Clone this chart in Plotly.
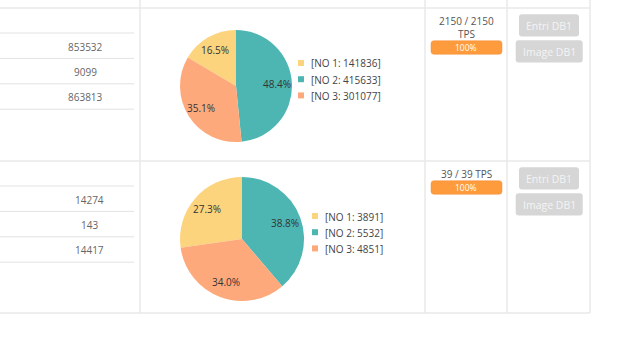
import math
import plotly.graph_objects as go

W, H = 620, 345

# ---- data ----
series = ["NO 1", "NO 2", "NO 3"]
series_colors = ["#FCD47E", "#4DB6B2", "#FEA97B"]
pie_row1 = [141836, 415633, 301077]
pie_row2 = [3891, 5532, 4851]
counts_row1 = [853532, 9099, 863813]
counts_row2 = [14274, 143, 14417]
tps_done = [2150, 39]
tps_target = [2150, 39]
progress_pct = [100, 100]
button_labels = ["Entri DB1", "Image DB1"]

FONT = "Open Sans"
LINE = "#E9E9E9"
INNER_LINE = "#E2E2E2"


def fx(x):
    return x / W


def fy(y):
    return 1 - y / H


def rrect(x0, y0, x1, y1, r):
    return (
        f"M{fx(x0 + r)},{fy(y0)} L{fx(x1 - r)},{fy(y0)} "
        f"Q{fx(x1)},{fy(y0)} {fx(x1)},{fy(y0 + r)} "
        f"L{fx(x1)},{fy(y1 - r)} Q{fx(x1)},{fy(y1)} {fx(x1 - r)},{fy(y1)} "
        f"L{fx(x0 + r)},{fy(y1)} Q{fx(x0)},{fy(y1)} {fx(x0)},{fy(y1 - r)} "
        f"L{fx(x0)},{fy(y0 + r)} Q{fx(x0)},{fy(y0)} {fx(x0 + r)},{fy(y0)} Z"
    )


fig = go.Figure()
shapes = []
annotations = []


def line(x0, y0, x1, y1, color=LINE, width=1):
    shapes.append(dict(type="line", xref="paper", yref="paper",
                       x0=fx(x0), y0=fy(y0), x1=fx(x1), y1=fy(y1),
                       line=dict(color=color, width=width), layer="below"))


def text(x, y, s, size=10, color="#666", xanchor="center", yanchor="middle"):
    annotations.append(dict(xref="paper", yref="paper", x=fx(x), y=fy(y),
                            text=s, showarrow=False, xanchor=xanchor,
                            yanchor=yanchor, borderpad=0,
                            font=dict(family=FONT, size=size, color=color)))


# ---- table grid ----
row_tops = [8, 161]
table_bottom = 313
col_edges = [140, 425, 507, 590]
for x in col_edges:
    line(x, 0, x, table_bottom, width=1.5)
for y in row_tops + [table_bottom]:
    line(0, y, col_edges[-1], y, width=1.5)

rows = [
    dict(values=pie_row1, counts=counts_row1, num_x=85, cx=236, r=56, leg_x=298),
    dict(values=pie_row2, counts=counts_row2, num_x=89.5, cx=242, r=62, leg_x=312),
]

for i, row in enumerate(rows):
    y0 = row_tops[i]

    # count sub-table
    for k in range(4):
        line(0, y0 + 25 + 25.4 * k, 134, y0 + 25 + 25.4 * k, color=INNER_LINE, width=1)
    for k, c in enumerate(row["counts"]):
        text(row["num_x"], y0 + 38.5 + 25.4 * k, str(c), color="#666")

    # pie
    vals = row["values"]
    total = sum(vals)
    cx, cy, r = row["cx"], y0 + 78, row["r"]
    rot = -360 * vals[0] / total
    fig.add_trace(go.Pie(
        values=vals,
        labels=[f"[{s}: {v}]" for s, v in zip(series, vals)],
        marker=dict(colors=series_colors),
        sort=False, direction="clockwise", rotation=rot,
        textinfo="none", showlegend=False,
        domain=dict(x=[fx(cx - r), fx(cx + r)], y=[fy(cy + r), fy(cy - r)]),
    ))
    acc = 0
    for v in vals:
        mid = math.radians(rot + 360 * (acc + v / 2) / total)
        acc += v
        tx = cx + 0.74 * r * math.sin(mid)
        ty = cy - 0.74 * r * math.cos(mid)
        text(tx, ty, f"{100 * v / total:.1f}%", color="#333")

    # legend
    for k, (s, v) in enumerate(zip(series, vals)):
        ly = y0 + 55 + 16.2 * k
        lx = row["leg_x"]
        shapes.append(dict(type="rect", xref="paper", yref="paper",
                           x0=fx(lx), x1=fx(lx + 6), y0=fy(ly + 3), y1=fy(ly - 3),
                           fillcolor=series_colors[k], line=dict(width=0)))
        text(lx + 11.5, ly + 0.5, f"[{s}: {v}]", color="#444", xanchor="left")

    # TPS cell (wraps onto a second line when too wide for the column)
    label = f"{tps_done[i]} / {tps_target[i]} TPS"
    if len(label) > 11:
        tps_lines = [f"{tps_done[i]} / {tps_target[i]}", "TPS"]
    else:
        tps_lines = [label]
    for k, s in enumerate(tps_lines):
        text(466, y0 + 13 + 13.3 * k, s, color="#555")
    bar_top = y0 + 6.7 + 13 * len(tps_lines)
    bar_w = 71 * progress_pct[i] / 100
    shapes.append(dict(type="path", xref="paper", yref="paper",
                       path=rrect(431, bar_top, 431 + bar_w, bar_top + 13.6, 3),
                       fillcolor="#FD9B3D", line=dict(color="#F5923A", width=0.5)))
    text(466, bar_top + 6.9, f"{progress_pct[i]}%", size=8.5, color="#FFFFFF")

    # buttons
    bx0 = [519, 515.7]
    bx1 = [579, 582.7]
    by = [6.3, 32.3]
    for b, lab in enumerate(button_labels):
        shapes.append(dict(type="path", xref="paper", yref="paper",
                           path=rrect(bx0[b], y0 + by[b], bx1[b], y0 + by[b] + 22.2, 3),
                           fillcolor="#D6D6D6", line=dict(width=0)))
        text((bx0[b] + bx1[b]) / 2, y0 + by[b] + 11.3, lab, size=10.5, color="#F4F4F4")

fig.update_layout(
    width=W, height=H,
    margin=dict(l=0, r=0, t=0, b=0),
    paper_bgcolor="#FFFFFF", plot_bgcolor="#FFFFFF",
    shapes=shapes, annotations=annotations,
    font=dict(family=FONT),
)

fig.write_html("out.html", config={"displayModeBar": False})
